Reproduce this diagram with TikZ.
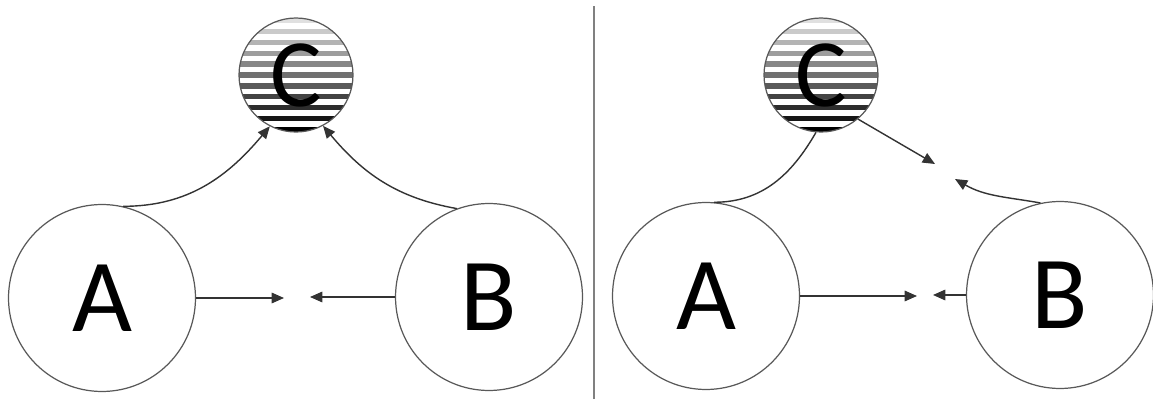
\documentclass[tikz,border=0pt]{standalone}
\usepackage{fontspec}
\setmainfont{Carlito}
\usetikzlibrary{arrows.meta}

\tikzset{
	varnode/.style={circle, draw=black!65, line width=0.7pt, inner sep=0pt, minimum size=3.74cm, font=\fontsize{59}{59}\selectfont},
	stripenode/.style={varnode, minimum size=2.28cm, font=\fontsize{55}{55}\selectfont,
		path picture={
			\foreach \i [evaluate=\i as \g using 12+\i*8.8] in {0,...,10}
				\fill[black!\g] ([yshift=-\i*\gap]path picture bounding box.north west) rectangle ([yshift=-\i*\gap-0.5*\gap]path picture bounding box.north east);
		}},
	link/.style={draw=black!80, line width=0.8pt, -{Triangle[length=7pt, width=6pt]}},
}

\begin{document}
\begin{tikzpicture}[x=0.02cm, y=0.02cm]
	\def\gap{0.2171cm}
	\useasboundingbox (0,0) rectangle (1153,399);
	\node[varnode] (A1) at (102,101) {A};
	\node[varnode] (B1) at (489,102) {B};
	\node[stripenode] (C1) at (296,324) {C};
	\coordinate (a1) at (284,101);
	\coordinate (b1) at (310,102);
	\draw[link] (A1) -- (a1);
	\draw[link] (B1) -- (b1);
	\draw[link] (A1.77) to[out=0, in=230] (C1.243);
	\draw[link] (B1.110) to[out=170, in=-50] (C1.298);

	\draw[black!50, line width=1.1pt] (594,0) -- (594,393);

	\node[varnode] (A2) at (706,103) {A};
	\node[varnode] (B2) at (1060,104) {B};
	\node[stripenode] (C2) at (821,324) {C};
	\coordinate (a2) at (917,103);
	\coordinate (b2) at (933,104);
	\coordinate (c2) at (935,235);
	\coordinate (d2) at (955,220);
	\draw[link] (A2) -- (a2);
	\draw[link] (B2) -- (b2);
	\draw[link] (C2.-50) -- (c2);
	\draw[link] (B2.102) to[out=170, in=-30] (d2);
	\draw[draw=black!80, line width=0.8pt] (C2.265) to[out=240, in=0] (A2.85);
\end{tikzpicture}
\end{document}
